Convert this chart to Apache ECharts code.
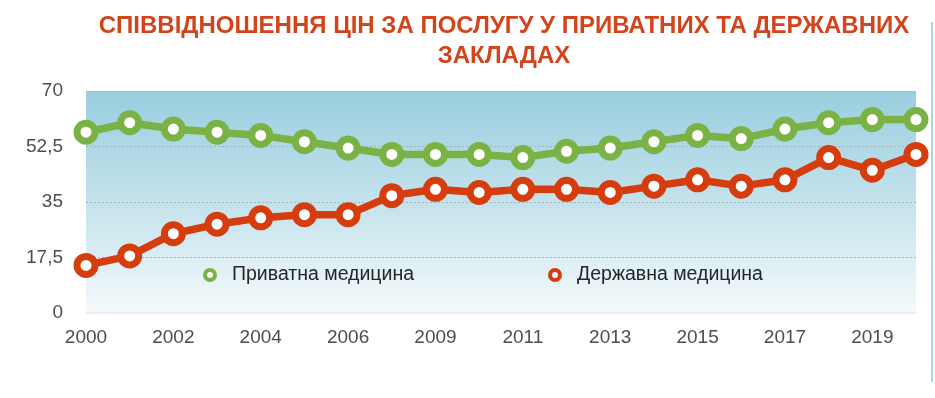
<!DOCTYPE html>
<html>
<head>
<meta charset="utf-8">
<script src="https://cdn.jsdelivr.net/npm/echarts@6/dist/echarts.min.js"></script>
<style>
  html, body { margin: 0; padding: 0; background: #ffffff; }
  #chart { width: 935px; height: 398px; }
</style>
</head>
<body>
<div id="chart"></div>
<script>
const titleText = 'СПІВВІДНОШЕННЯ ЦІН ЗА ПОСЛУГУ У ПРИВАТНИХ ТА ДЕРЖАВНИХ\nЗАКЛАДАХ';
const years = ['2000','2001','2002','2003','2004','2005','2006','2008','2009','2010','2011','2012','2013','2014','2015','2016','2017','2018','2019','2020'];
const privateName = 'Приватна медицина';
const publicName = 'Державна медицина';
const privateValues = [57, 60, 58, 57, 56, 54, 52, 50, 50, 50, 49, 51, 52, 54, 56, 55, 58, 60, 61, 61];
const publicValues  = [15, 18, 25, 28, 30, 31, 31, 37, 39, 38, 39, 39, 38, 40, 42, 40, 42, 49, 45, 50];
const yTicks = [0, 17.5, 35, 52.5, 70];

const GREEN = '#7AB245';
const RED = '#D63D0E';
const FONT = '"Liberation Sans", Arial, Helvetica, sans-serif';

const chart = echarts.init(document.getElementById('chart'), null, { renderer: 'canvas' });

function seriesOf(name, values, color) {
  return {
    name: name,
    type: 'line',
    data: values,
    symbol: 'circle',
    symbolSize: 18,
    showAllSymbol: true,
    lineStyle: { color: color, width: 7.5 },
    itemStyle: { color: '#ffffff', borderColor: color, borderWidth: 7 },
    emphasis: { disabled: true },
    z: 3
  };
}

function legendOf(name, color, left) {
  return {
    top: 260,
    left: left,
    icon: 'circle',
    itemWidth: 10,
    itemHeight: 10,
    data: [name],
    itemStyle: { color: '#ffffff', borderColor: color, borderWidth: 4 },
    textStyle: { fontFamily: FONT, fontSize: 19.5, color: '#262626', padding: [0, 0, 0, 12] }
  };
}

chart.setOption({
  animation: false,
  backgroundColor: '#ffffff',
  title: {
    text: titleText,
    left: 499,
    top: 6,
    textAlign: 'center',
    textStyle: {
      fontFamily: FONT,
      fontWeight: 'bold',
      fontSize: 24,
      lineHeight: 30,
      color: '#D2441C'
    }
  },
  legend: [
    legendOf(privateName, GREEN, 198),
    legendOf(publicName, RED, 543)
  ],
  grid: {
    left: 86,
    right: 19,
    top: 91,
    bottom: 85,
    show: true,
    borderWidth: 0,
    backgroundColor: {
      type: 'linear', x: 0, y: 0, x2: 0, y2: 1,
      colorStops: [
        { offset: 0, color: '#9ACEDF' },
        { offset: 0.55, color: '#C8E4ED' },
        { offset: 1, color: '#F5FAFC' }
      ]
    }
  },
  xAxis: {
    type: 'category',
    data: years,
    boundaryGap: false,
    axisLine: { show: true, lineStyle: { color: '#ECEEEE', width: 2 } },
    axisTick: { show: false },
    axisLabel: {
      interval: 1,
      margin: 15,
      fontFamily: FONT,
      fontSize: 19,
      color: '#4d4d4d'
    },
    splitLine: { show: false }
  },
  yAxis: {
    type: 'value',
    min: yTicks[0],
    max: yTicks[yTicks.length - 1],
    interval: yTicks[1] - yTicks[0],
    axisLine: { show: false },
    axisTick: { show: false },
    axisLabel: {
      margin: 23,
      fontFamily: FONT,
      fontSize: 19,
      color: '#4d4d4d',
      formatter: function (v) { return String(v).replace('.', ','); }
    },
    splitLine: { show: true, lineStyle: { color: '#A8B4B8', type: [2, 2], width: 1 } }
  },
  graphic: [
    {
      type: 'line',
      shape: { x1: 932, y1: 22, x2: 932, y2: 382 },
      style: { stroke: '#A7D7E3', lineWidth: 2 },
      silent: true
    }
  ],
  series: [
    seriesOf(privateName, privateValues, GREEN),
    seriesOf(publicName, publicValues, RED)
  ]
});
</script>
</body>
</html>
